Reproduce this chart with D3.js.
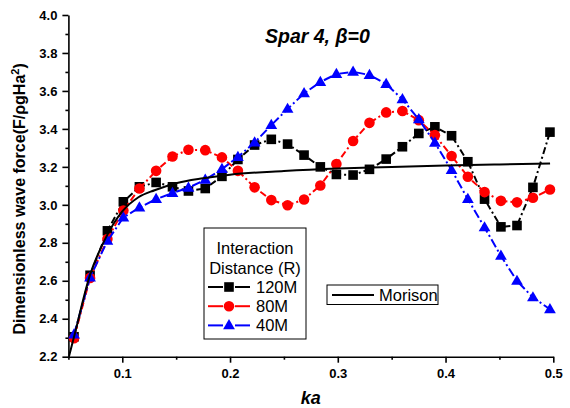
<!DOCTYPE html>
<html>
<head>
<meta charset="utf-8">
<script src="https://cdn.jsdelivr.net/npm/d3@7"></script>
<style>
  body { margin: 0; background: #fff; }
  text { font-family: "Liberation Sans", Arial, sans-serif; }
</style>
</head>
<body>
<div id="chart"></div>
<script>
// ka values shared by the three interaction series
const ka = [0.0552, 0.0701, 0.0862, 0.1010, 0.1159, 0.1314, 0.1466, 0.1614, 0.1770, 0.1925,
  0.2073, 0.2228, 0.2383, 0.2534, 0.2687, 0.2838, 0.2987, 0.3142, 0.3294, 0.3449,
  0.3600, 0.3752, 0.3901, 0.4056, 0.4207, 0.4362, 0.4514, 0.4663, 0.4811, 0.4969];

const force120M = [2.305, 2.629, 2.863, 3.016, 3.095, 3.118, 3.095, 3.073, 3.086, 3.150,
  3.239, 3.315, 3.345, 3.320, 3.262, 3.200, 3.160, 3.157, 3.187, 3.241,
  3.306, 3.376, 3.411, 3.364, 3.227, 3.030, 2.884, 2.891, 3.092, 3.383];

const force80M = [2.297, 2.615, 2.820, 2.970, 3.086, 3.179, 3.255, 3.290, 3.288, 3.250,
  3.179, 3.092, 3.025, 2.998, 3.028, 3.102, 3.215, 3.336, 3.432, 3.487,
  3.494, 3.446, 3.367, 3.257, 3.148, 3.067, 3.021, 3.013, 3.037, 3.081];

const force40M = [2.317, 2.617, 2.810, 2.933, 2.986, 3.030, 3.062, 3.090, 3.132, 3.188,
  3.252, 3.328, 3.420, 3.505, 3.587, 3.647, 3.689, 3.701, 3.684, 3.636,
  3.556, 3.450, 3.327, 3.183, 3.030, 2.881, 2.731, 2.599, 2.512, 2.450];

// Morison curve
const morisonKa = [0.050, 0.055, 0.070, 0.085, 0.100, 0.115, 0.130, 0.150, 0.175, 0.200,
  0.250, 0.300, 0.350, 0.400, 0.450, 0.497];
const morisonForce = [2.19, 2.30, 2.63, 2.83, 2.965, 3.04, 3.077, 3.114, 3.14, 3.159,
  3.178, 3.191, 3.199, 3.207, 3.213, 3.218];

const xTicks = [0.1, 0.2, 0.3, 0.4, 0.5];
const xMinorTicks = [0.05, 0.15, 0.25, 0.35, 0.45];
const yTicks = [2.2, 2.4, 2.6, 2.8, 3.0, 3.2, 3.4, 3.6, 3.8, 4.0];
const yMinorTicks = [2.3, 2.5, 2.7, 2.9, 3.1, 3.3, 3.5, 3.7, 3.9];

const series = [
  { name: "120M", values: force120M, color: "#000000", shape: "square", dash: "7,3,2,3" },
  { name: "80M", values: force80M, color: "#ff0000", shape: "circle", dash: "7,3,2,3" },
  { name: "40M", values: force40M, color: "#0000ff", shape: "triangle", dash: "9,3,2,3" }
];

const width = 570, height = 408;
const plotLeft = 68.4, plotRight = 553.3, plotTop = 15, plotBottom = 356.7;

const svg = d3.select("#chart").append("svg")
  .attr("width", width)
  .attr("height", height);

const x = d3.scaleLinear().domain([0.05, 0.5]).range([plotLeft, plotRight]);
const y = d3.scaleLinear().domain([2.2, 4.0]).range([plotBottom, plotTop]);

svg.append("defs").append("clipPath").attr("id", "plotClip")
  .append("rect")
  .attr("x", plotLeft).attr("y", plotTop)
  .attr("width", plotRight - plotLeft + 20).attr("height", plotBottom - plotTop);

// axes
const fmt = d3.format(".1f");
svg.append("g")
  .attr("transform", "translate(0," + plotBottom + ")")
  .call(d3.axisBottom(x).tickValues(xTicks).tickFormat(fmt).tickSize(6).tickSizeOuter(0).tickPadding(6));
svg.append("g")
  .attr("transform", "translate(0," + plotBottom + ")")
  .call(d3.axisBottom(x).tickValues(xMinorTicks).tickFormat("").tickSize(3).tickSizeOuter(0))
  .select(".domain").remove();

svg.append("g")
  .attr("transform", "translate(" + plotLeft + ",0)")
  .call(d3.axisLeft(y).tickValues(yTicks).tickFormat(fmt).tickSize(6).tickSizeOuter(0).tickPadding(5));
svg.append("g")
  .attr("transform", "translate(" + plotLeft + ",0)")
  .call(d3.axisLeft(y).tickValues(yMinorTicks).tickFormat("").tickSize(3).tickSizeOuter(0))
  .select(".domain").remove();

svg.selectAll(".domain, .tick line")
  .attr("stroke", "#000")
  .attr("stroke-width", 1.6);
svg.selectAll(".tick text")
  .attr("fill", "#000")
  .style("font-family", "'Liberation Sans', Arial, sans-serif")
  .style("font-size", "13px")
  .style("font-weight", "bold");

// axis titles
svg.append("text")
  .attr("x", (plotLeft + plotRight) / 2)
  .attr("y", 404)
  .attr("text-anchor", "middle")
  .style("font-size", "18px")
  .style("font-weight", "bold")
  .style("font-style", "italic")
  .text("ka");

const yLabel = svg.append("text")
  .attr("transform", "translate(25," + ((plotTop + plotBottom) / 2 + 13) + ") rotate(-90)")
  .attr("text-anchor", "middle")
  .style("font-size", "16px")
  .style("font-weight", "bold");
yLabel.append("tspan").text("Dimensionless wave force(F/ρgHa");
yLabel.append("tspan").attr("dy", -6).style("font-size", "11px").text("2");
yLabel.append("tspan").attr("dy", 6).text(")");

// title
svg.append("text")
  .attr("x", 265)
  .attr("y", 43)
  .style("font-size", "19.5px")
  .style("font-weight", "bold")
  .style("font-style", "italic")
  .text("Spar 4, β=0");

// markers
function drawMarker(g, shape, cx, cy, color) {
  if (shape === "square") {
    g.append("rect")
      .attr("x", cx - 4.8).attr("y", cy - 4.8)
      .attr("width", 9.6).attr("height", 9.6)
      .attr("fill", color);
  } else if (shape === "circle") {
    g.append("circle")
      .attr("cx", cx).attr("cy", cy).attr("r", 5.3)
      .attr("fill", color);
  } else {
    g.append("path")
      .attr("d", d3.symbol().type(d3.symbolTriangle).size(60)())
      .attr("transform", "translate(" + cx + "," + (cy + 0.5) + ")")
      .attr("fill", color);
  }
}

const plot = svg.append("g").attr("clip-path", "url(#plotClip)");

const line = d3.line()
  .x(d => x(d[0]))
  .y(d => y(d[1]));

series.forEach(s => {
  const pts = ka.map((k, i) => [k, s.values[i]]);
  const g = plot.append("g");
  g.append("path")
    .datum(pts)
    .attr("d", line)
    .attr("fill", "none")
    .attr("stroke", s.color)
    .attr("stroke-width", 2)
    .attr("stroke-dasharray", s.dash);
  pts.forEach(p => drawMarker(g, s.shape, x(p[0]), y(p[1]), s.color));
});

// Morison line
const morisonPts = morisonKa.map((k, i) => [k, morisonForce[i]]);
plot.append("path")
  .datum(morisonPts)
  .attr("d", d3.line().x(d => x(d[0])).y(d => y(d[1])).curve(d3.curveMonotoneX))
  .attr("fill", "none")
  .attr("stroke", "#000")
  .attr("stroke-width", 2);

// legend for the interaction distance
const leg = svg.append("g");
leg.append("rect")
  .attr("x", 204).attr("y", 228)
  .attr("width", 102).attr("height", 111)
  .attr("fill", "#fff")
  .attr("stroke", "#000")
  .attr("stroke-width", 1);
leg.append("text")
  .attr("x", 255).attr("y", 254)
  .attr("text-anchor", "middle")
  .style("font-size", "16.5px")
  .text("Interaction");
leg.append("text")
  .attr("x", 255).attr("y", 274)
  .attr("text-anchor", "middle")
  .style("font-size", "16.5px")
  .text("Distance (R)");
series.forEach((s, i) => {
  const cy = 287 + i * 19.2;
  leg.append("line")
    .attr("x1", 208).attr("x2", 223).attr("y1", cy).attr("y2", cy)
    .attr("stroke", s.color).attr("stroke-width", 2);
  leg.append("line")
    .attr("x1", 235).attr("x2", 250).attr("y1", cy).attr("y2", cy)
    .attr("stroke", s.color).attr("stroke-width", 2);
  drawMarker(leg, s.shape, 229, cy, s.color);
  leg.append("text")
    .attr("x", 256).attr("y", cy + 6)
    .style("font-size", "16.5px")
    .text(s.name);
});

// Morison legend
const leg2 = svg.append("g");
leg2.append("rect")
  .attr("x", 327).attr("y", 285)
  .attr("width", 111).attr("height", 19.5)
  .attr("fill", "#fff")
  .attr("stroke", "#000")
  .attr("stroke-width", 1);
leg2.append("line")
  .attr("x1", 332).attr("x2", 374).attr("y1", 295).attr("y2", 295)
  .attr("stroke", "#000").attr("stroke-width", 2);
leg2.append("text")
  .attr("x", 379).attr("y", 301)
  .style("font-size", "16.5px")
  .text("Morison");
</script>
</body>
</html>
